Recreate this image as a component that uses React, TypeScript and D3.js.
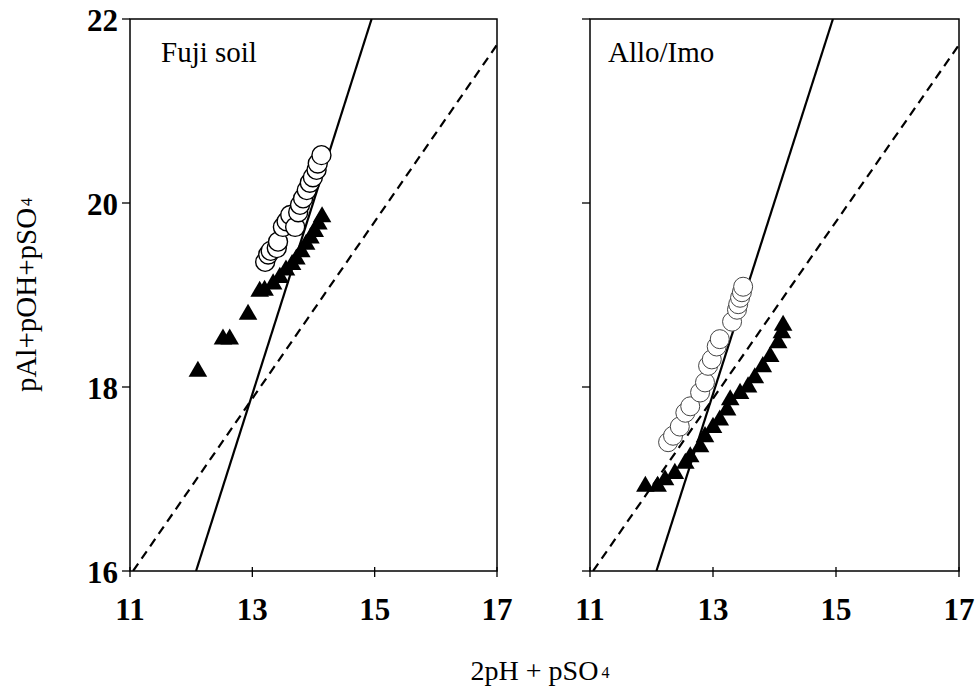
import React from "react";
import * as d3 from "d3";

// ---------- data ----------
const xTicks = [11, 13, 15, 17];
const yTicks = [16, 18, 20, 22];
const panelTitles = ["Fuji soil", "Allo/Imo"];

// Fuji soil
const fujiCirclesX = [13.21, 13.26, 13.3, 13.4, 13.42, 13.5, 13.56, 13.62, 13.7, 13.75, 13.78, 13.83, 13.89, 13.94, 13.99, 14.05, 14.07, 14.13];
const fujiCirclesY = [19.36, 19.44, 19.48, 19.51, 19.58, 19.74, 19.8, 19.87, 19.74, 19.9, 19.98, 20.05, 20.14, 20.22, 20.28, 20.36, 20.43, 20.52];
const fujiTrianglesX = [12.11, 12.52, 12.63, 12.93, 13.12, 13.2, 13.34, 13.45, 13.55, 13.65, 13.72, 13.8, 13.88, 13.95, 14.02, 14.08, 14.14];
const fujiTrianglesY = [18.18, 18.53, 18.53, 18.8, 19.05, 19.06, 19.13, 19.2, 19.28, 19.34, 19.4, 19.48, 19.56, 19.63, 19.7, 19.78, 19.86];

// Allo/Imo
const alloCirclesX = [12.27, 12.35, 12.46, 12.55, 12.63, 12.79, 12.87, 12.92, 12.98, 13.06, 13.11, 13.31, 13.39, 13.41, 13.44, 13.47, 13.49];
const alloCirclesY = [17.4, 17.47, 17.57, 17.72, 17.79, 17.94, 18.05, 18.23, 18.3, 18.44, 18.52, 18.71, 18.84, 18.9, 18.97, 19.03, 19.09];
const alloTrianglesX = [11.9, 12.1, 12.22, 12.38, 12.55, 12.63, 12.79, 12.87, 13.0, 13.11, 13.23, 13.28, 13.44, 13.57, 13.68, 13.81, 13.93, 14.06, 14.12, 14.14];
const alloTrianglesY = [16.93, 16.93, 17.0, 17.07, 17.18, 17.25, 17.36, 17.47, 17.57, 17.65, 17.76, 17.87, 17.94, 18.01, 18.11, 18.23, 18.34, 18.49, 18.6, 18.68];

// reference lines (endpoints in data units)
const solidLineX = [12.08, 14.95];
const solidLineY = [16, 22];
const dashedLineX = [11.05, 17];
const dashedLineY = [16, 21.72];

const panels = [
  { title: panelTitles[0], cx: fujiCirclesX, cy: fujiCirclesY, tx: fujiTrianglesX, ty: fujiTrianglesY, left: 130, right: 497, titleDx: 31, labels: true },
  { title: panelTitles[1], cx: alloCirclesX, cy: alloCirclesY, tx: alloTrianglesX, ty: alloTrianglesY, left: 590, right: 959, titleDx: 18, labels: false },
];

const FONT = "'Liberation Serif', 'Times New Roman', Times, serif";
const TOP = 19;
const BOTTOM = 571;

function Panel({ p }: { p: typeof panels[number] }) {
  const x = d3.scaleLinear().domain([11, 17]).range([p.left, p.right]);
  const y = d3.scaleLinear().domain([16, 22]).range([BOTTOM, TOP]);
  const clipId = "clip" + p.left;
  const line = d3.line<[number, number]>().x((d) => x(d[0])).y((d) => y(d[1]));
  const solid: [number, number][] = solidLineX.map((v, i) => [v, solidLineY[i]]);
  const dashed: [number, number][] = dashedLineX.map((v, i) => [v, dashedLineY[i]]);
  const tri = d3.symbol().type(d3.symbolTriangle).size(150)();
  return (
    <g>
      <defs>
        <clipPath id={clipId}>
          <rect x={p.left} y={TOP} width={p.right - p.left} height={BOTTOM - TOP} />
        </clipPath>
      </defs>
      <g clipPath={`url(#${clipId})`}>
        <path d={line(solid) || ""} stroke="#000" strokeWidth={2.2} fill="none" />
        <path d={line(dashed) || ""} stroke="#000" strokeWidth={2.2} fill="none" strokeDasharray="9,6" />
      </g>
      {p.tx.map((v, i) => (
        <path key={"t" + i} d={tri || ""} transform={`translate(${x(v)},${y(p.ty[i]) + 1})`} fill="#000" />
      ))}
      {p.cx.map((v, i) => (
        <circle key={"c" + i} cx={x(v)} cy={y(p.cy[i])} r={9.5} fill="#fff" stroke={p.labels ? "#000" : "#444"} strokeWidth={p.labels ? 1.4 : 1} />
      ))}
      <rect x={p.left} y={TOP} width={p.right - p.left} height={BOTTOM - TOP} fill="none" stroke="#000" strokeWidth={1.5} />
      {xTicks.map((t) => (
        <g key={"xt" + t}>
          <line x1={x(t)} x2={x(t)} y1={BOTTOM - 4} y2={BOTTOM + 6} stroke="#000" strokeWidth={1.3} />
          <text x={x(t)} y={620} textAnchor="middle" style={{ fontFamily: FONT }} fontWeight="bold" fontSize={31}>{t}</text>
        </g>
      ))}
      {yTicks.map((t) => (
        <g key={"yt" + t}>
          <line x1={p.left - 8} x2={p.left} y1={y(t)} y2={y(t)} stroke="#000" strokeWidth={1.3} />
          {p.labels && (
            <text x={p.left - 12} y={y(t) + 12} textAnchor="end" style={{ fontFamily: FONT }} fontWeight="bold" fontSize={31}>{t}</text>
          )}
        </g>
      ))}
      <text x={p.left + p.titleDx} y={62} style={{ fontFamily: FONT }} fontSize={29}>{p.title}</text>
    </g>
  );
}

export default function App() {
  return (
    <svg width={978} height={693} style={{ position: "absolute", left: 0, top: 0, background: "#fff" }}>
      <rect width={978} height={693} fill="#fff" />
      {panels.map((p) => (
        <Panel key={p.title} p={p} />
      ))}
      <text x={540} y={680} textAnchor="middle" style={{ fontFamily: FONT }} fontSize={28}>
        2pH + pSO<tspan fontSize={16} dx={3} dy={-2}>4</tspan>
      </text>
      <text transform="translate(36,295) rotate(-90)" textAnchor="middle" style={{ fontFamily: FONT }} fontSize={29}>
        pAl+pOH+pSO<tspan fontSize={16} dx={2} dy={-4}>4</tspan>
      </text>
    </svg>
  );
}
